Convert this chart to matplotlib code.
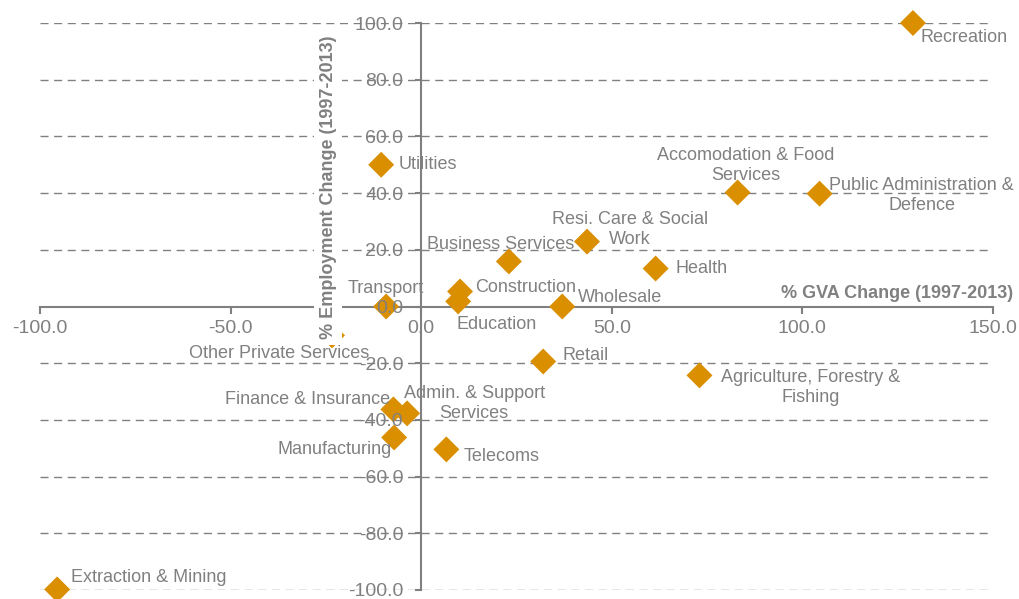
import matplotlib.pyplot as plt

plt.rcParams['font.family'] = ['Liberation Sans', 'DejaVu Sans']

# sector data
sectors = ['Recreation', 'Utilities', 'Accomodation & Food\nServices',
           'Public Administration &\nDefence', 'Resi. Care & Social\nWork',
           'Business Services', 'Health', 'Construction', 'Education',
           'Wholesale', 'Transport', 'Retail', 'Agriculture, Forestry &\nFishing',
           'Finance & Insurance', 'Admin. & Support\nServices', 'Manufacturing',
           'Telecoms', 'Extraction & Mining', 'Other Private Services']
gva_change = [129, -10.5, 83, 104.5, 43.5, 23, 61.5, 10.2, 9.7,
              37, -9.2, 32, 73, -7.3, -3.7, -7.1, 6.6, -95.5, -23.4]
emp_change = [100, 50, 40.2, 39.8, 22.9, 15.9, 13.4, 5.3, 1.8,
              0, 0, -19.4, -24.3, -36.3, -37.7, -46.2, -50.4, -99.8, -10.2]

x_ticks = [-100, -50, 0, 50, 100, 150]
y_ticks = [-100, -80, -60, -40, -20, 0, 20, 40, 60, 80, 100]

# label offsets in pixels (dx right, dy down) and alignment
label_pos = [(8, 14, 'left'), (17, 0, 'left'), (8, -27, 'center'),
             (102, 2, 'center'), (43, -12, 'center'), (-8, -17, 'center'),
             (20, 0, 'left'), (15, -4, 'left'), (38, 23, 'center'),
             (16, -9, 'left'), (0, -18, 'center'), (19, -6, 'left'),
             (111, 12, 'center'), (-3, -10, 'right'), (67, -10, 'center'),
             (-2, 12, 'right'), (17, 7, 'left'), (14, -12, 'left'),
             (37, 18, 'right')]

grey = '#808080'
orange = '#D98F00'

fig = plt.figure(figsize=(10.19, 5.99), dpi=100)
ax = fig.add_axes([40/1019, 9/599, 953/1019, 567/599])

ax.scatter(gva_change, emp_change, marker='D', s=175, color=orange,
           edgecolors='none', zorder=4, clip_on=False)

for name, x, y, (dx, dy, ha) in zip(sectors, gva_change, emp_change, label_pos):
    ax.annotate(name, (x, y), xytext=(dx, -dy), textcoords='offset pixels',
                ha=ha, va='center', multialignment='center',
                fontsize=13, color=grey, zorder=5)

ax.set_xlim(-100, 150)
ax.set_ylim(-100, 100)
ax.set_xticks(x_ticks)
ax.set_yticks(y_ticks)
ax.set_xticklabels(['%.1f' % v for v in x_ticks])
ax.set_yticklabels(['%.1f' % v for v in y_ticks])

for v in y_ticks:
    if v != 0:
        ax.axhline(v, color=grey, lw=1, dashes=(5.8, 4), zorder=1)

for s in ['top', 'right']:
    ax.spines[s].set_visible(False)
ax.spines['left'].set_position(('data', 0))
ax.spines['bottom'].set_position(('data', 0))
for s in ['left', 'bottom']:
    ax.spines[s].set_color(grey)
    ax.spines[s].set_linewidth(1.5)
    ax.spines[s].set_zorder(2)
ax.xaxis.set_zorder(4.5)
ax.yaxis.set_zorder(4.5)

ax.tick_params(axis='x', colors=grey, labelsize=14, length=5, width=1.5,
               pad=5, direction='out')
ax.tick_params(axis='y', colors=grey, labelsize=14, length=4, width=1.5,
               pad=9, direction='out')

ax.text(155.2, 4.6, '% GVA Change (1997-2013)', ha='right', va='center',
        fontsize=13, fontweight='bold', color=grey, clip_on=False)
ax.text(-24.4, 42, '% Employment Change (1997-2013)', rotation=90,
        ha='center', va='center', fontsize=13, fontweight='bold', color=grey,
        bbox=dict(facecolor='white', edgecolor='none', pad=4), zorder=10)

fig.savefig('out.png', dpi=100)
